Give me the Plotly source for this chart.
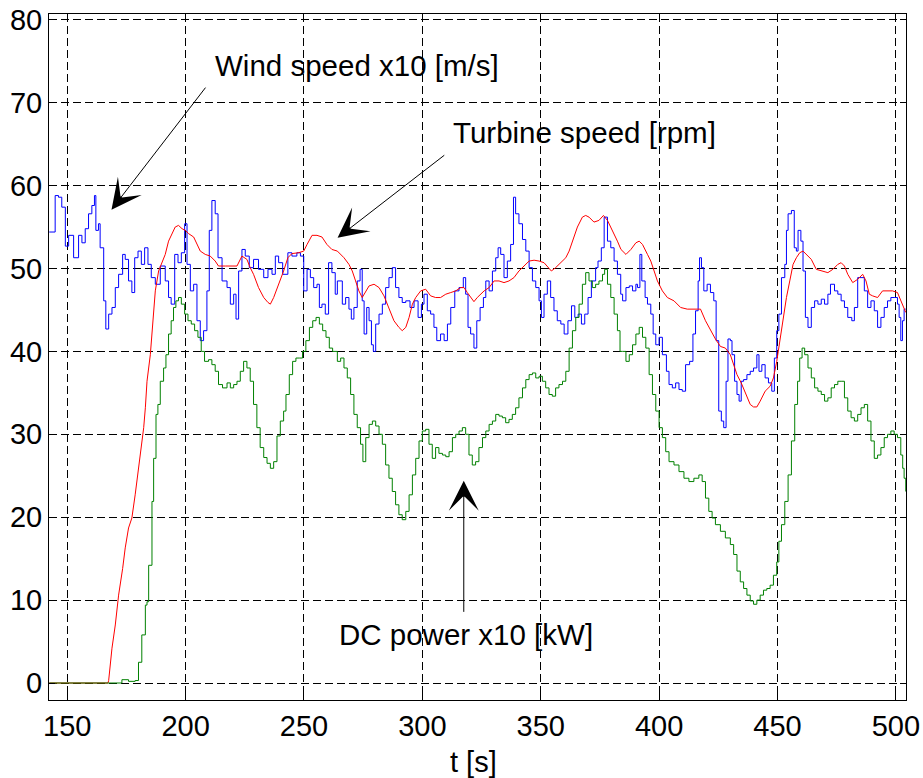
import plotly.graph_objects as go

# Wind speed x10 [m/s]
wind_t = [142.4, 144.9, 146.3, 147.7, 149.2, 150.6, 152.7, 154.8, 156.2, 157.6, 159.0, 160.4, 161.5, 162.1,
          163.2, 163.9, 165.4, 166.3, 167.5, 168.9, 170.3, 171.7, 173.4, 174.5, 175.9, 177.3, 178.5, 179.9,
          181.3, 182.7, 184.1, 185.5, 187.2, 189.3, 191.4, 192.8, 193.9, 195.4, 196.8, 198.2, 199.6, 200.6,
          202.0, 203.4, 204.8, 206.2, 207.6, 209.0, 210.0, 211.1, 212.5, 213.7, 215.4, 217.5, 218.9, 220.3,
          221.3, 222.4, 223.8, 225.2, 226.9, 228.7, 230.8, 233.0, 234.8, 236.5, 237.9, 239.3, 241.0, 243.2,
          244.9, 247.0, 248.5, 249.9, 251.3, 252.7, 254.1, 255.5, 256.5, 257.6, 259.0, 260.4, 261.8, 263.2,
          264.1, 266.2, 267.6, 269.0, 270.0, 271.1, 272.5, 273.7, 274.6, 275.4, 276.5, 277.5, 278.5, 279.3,
          280.3, 281.7, 283.1, 284.5, 285.9, 287.3, 288.7, 290.1, 291.5, 293.0, 294.8, 296.5, 298.2, 299.6,
          300.7, 302.1, 303.5, 304.9, 306.1, 307.7, 309.2, 310.6, 312.0, 313.7, 315.5, 317.3, 318.3, 319.3,
          320.4, 321.8, 323.0, 324.4, 325.8, 326.8, 328.2, 329.6, 331.0, 332.0, 333.1, 334.5, 335.9, 337.3,
          338.5, 339.4, 340.8, 342.3, 343.7, 345.1, 346.5, 347.9, 349.3, 350.3, 351.4, 352.8, 354.2, 355.6,
          357.0, 358.5, 359.9, 361.5, 363.0, 364.4, 365.8, 367.2, 368.6, 370.0, 371.4, 373.2, 374.2, 375.6,
          376.8, 378.2, 379.6, 381.0, 382.4, 383.8, 384.6, 386.0, 387.4, 388.8, 390.2, 390.9, 391.9, 392.7,
          394.1, 395.1, 396.5, 397.5, 398.6, 400.0, 401.4, 403.1, 404.2, 405.6, 407.0, 408.4, 409.8, 411.2,
          412.9, 414.3, 415.4, 416.5, 417.1, 417.9, 418.9, 420.3, 421.7, 423.1, 424.1, 425.2, 426.3, 427.3,
          428.3, 429.1, 430.1, 430.8, 431.9, 432.9, 433.8, 434.7, 435.7, 437.1, 438.5, 439.9, 441.3, 442.2,
          443.4, 444.8, 446.2, 447.6, 448.7, 449.7, 450.6, 451.7, 453.1, 453.8, 454.5, 455.9, 457.1, 458.0,
          458.7, 459.9, 460.8, 461.8, 462.9, 464.3, 465.7, 467.1, 468.5, 469.9, 471.3, 472.4, 474.1, 475.5,
          476.9, 478.3, 479.7, 481.4, 482.5, 483.9, 485.3, 486.7, 488.1, 489.5, 490.9, 492.3, 493.7, 495.1,
          496.5, 497.9, 499.3, 500.7, 501.4, 502.1, 502.8, 503.5, 504.2]
wind_v = [54.4, 58.8, 58.6, 57.4, 52.7, 54.0, 51.3, 54.0, 53.1, 54.8, 56.6, 57.6, 58.8, 54.6,
          55.4, 52.5, 46.1, 42.7, 44.5, 45.3, 47.7, 49.3, 51.7, 51.1, 48.5, 47.1, 51.3, 52.1,
          50.5, 52.5, 50.5, 48.9, 48.1, 50.3, 48.5, 46.5, 45.7, 51.7, 50.7, 51.9, 55.4, 50.5,
          47.3, 48.1, 43.7, 41.3, 42.5, 47.3, 54.6, 58.2, 56.6, 51.3, 48.5, 47.7, 45.7, 46.9,
          43.9, 49.7, 52.3, 51.5, 50.1, 51.1, 49.9, 48.9, 49.9, 49.3, 51.5, 50.7, 49.3, 51.9,
          51.5, 51.9, 51.5, 47.3, 49.9, 48.9, 47.7, 48.1, 45.3, 45.7, 44.5, 50.7, 49.5, 46.9,
          48.5, 45.7, 46.5, 45.1, 43.9, 45.3, 48.5, 49.9, 46.1, 42.1, 45.3, 43.7, 40.8, 40.0,
          43.3, 44.5, 45.7, 47.7, 48.9, 50.1, 47.7, 46.5, 45.9, 46.1, 45.3, 46.1, 44.1, 45.7,
          46.9, 44.9, 44.5, 42.9, 41.3, 42.1, 41.3, 43.3, 45.3, 47.3, 47.7, 48.9, 46.9, 42.9,
          42.1, 40.4, 43.7, 45.3, 46.5, 48.5, 47.3, 49.7, 51.3, 52.5, 51.7, 48.9, 50.9, 52.9,
          58.6, 56.6, 55.4, 53.5, 52.1, 50.1, 48.5, 47.7, 46.1, 44.1, 46.9, 48.5, 46.5, 44.9,
          43.7, 43.3, 42.1, 43.7, 45.5, 44.1, 44.5, 43.3, 44.5, 46.5, 48.5, 50.1, 50.9, 52.5,
          56.2, 53.3, 52.5, 50.9, 49.3, 46.9, 46.1, 47.7, 47.9, 47.3, 48.1, 47.7, 51.7, 48.5,
          46.5, 45.7, 44.5, 42.1, 40.8, 41.7, 39.6, 37.6, 36.0, 35.6, 36.2, 35.4, 35.2, 38.4,
          38.8, 42.1, 44.9, 48.5, 51.3, 50.1, 47.3, 48.1, 47.1, 46.1, 41.3, 32.8, 31.6, 30.8,
          36.4, 41.5, 41.3, 39.6, 36.4, 34.8, 34.0, 36.4, 36.6, 37.2, 37.6, 38.0, 39.6, 37.6,
          38.4, 36.8, 36.2, 35.2, 39.2, 42.5, 44.5, 48.9, 50.5, 54.6, 56.6, 57.0, 52.5, 52.1,
          54.6, 53.3, 49.7, 44.1, 42.9, 45.3, 46.1, 45.7, 46.3, 45.7, 46.9, 48.1, 47.3, 46.9,
          46.1, 45.3, 44.1, 43.7, 45.3, 48.9, 48.9, 47.3, 45.3, 46.1, 44.9, 42.9, 44.1, 45.3,
          46.1, 46.5, 46.5, 45.7, 44.1, 41.3, 43.7, 45.1, 45.1]

# Turbine speed [rpm]
turb_t = [142.4, 167.2, 167.5, 168.9, 170.3, 171.7, 173.4, 174.5, 175.9, 177.3, 178.7, 180.1, 181.5, 182.3,
          183.0, 183.7, 185.1, 186.1, 187.2, 188.6, 190.0, 191.4, 192.8, 194.2, 195.6, 197.0, 198.5, 199.9,
          201.3, 203.4, 204.8, 206.2, 208.3, 210.4, 212.5, 213.9, 216.8, 219.6, 221.7, 223.8, 225.9, 227.3,
          228.7, 230.8, 233.0, 234.8, 235.8, 237.2, 238.6, 240.0, 241.4, 243.2, 244.9, 247.7, 249.9, 251.3,
          253.4, 255.5, 257.6, 259.7, 261.8, 264.1, 266.9, 269.0, 270.4, 271.8, 273.2, 274.6, 276.1, 277.5,
          279.6, 281.7, 283.8, 285.9, 288.0, 290.1, 291.5, 293.0, 294.4, 295.8, 297.2, 299.3, 301.4, 303.5,
          305.6, 307.7, 309.9, 312.0, 314.1, 316.2, 317.6, 319.0, 320.4, 321.8, 323.2, 324.6, 326.1, 328.2,
          330.3, 332.4, 334.5, 336.6, 338.7, 340.8, 343.0, 345.1, 347.2, 349.3, 351.4, 352.8, 354.5, 356.3,
          358.5, 360.6, 362.0, 363.4, 365.5, 367.6, 369.0, 370.4, 372.5, 374.6, 376.5, 378.2, 379.6, 381.0,
          382.4, 383.9, 386.0, 388.1, 390.2, 391.6, 393.0, 395.1, 396.5, 397.9, 399.3, 401.4, 403.5, 406.3,
          409.1, 411.9, 415.4, 417.5, 419.6, 421.7, 423.8, 425.9, 428.0, 430.1, 431.5, 432.9, 434.7, 436.4,
          438.5, 439.9, 441.3, 442.7, 444.8, 446.9, 448.3, 449.7, 451.0, 452.4, 453.8, 455.2, 456.6, 458.0,
          459.4, 460.8, 462.2, 464.3, 466.4, 468.5, 471.3, 473.4, 475.5, 476.9, 478.3, 479.7, 481.8, 483.9,
          486.0, 487.4, 488.8, 490.2, 492.3, 494.4, 496.5, 498.6, 500.7, 502.1, 503.5, 504.2]
turb_v = [0.0, 0.0, 0.3, 4.2, 7.0, 10.6, 13.8, 16.3, 18.7, 19.9, 22.7, 25.9, 29.6, 30.8,
          33.2, 36.4, 39.6, 43.3, 47.3, 49.7, 50.7, 51.7, 53.3, 54.2, 55.0, 55.2, 54.8, 54.6,
          54.2, 53.8, 52.9, 52.1, 51.7, 51.5, 50.9, 50.3, 50.3, 50.3, 50.3, 51.5, 51.1, 50.1,
          49.3, 47.7, 46.5, 45.9, 45.7, 46.5, 47.5, 48.5, 49.7, 51.3, 51.8, 51.9, 52.1, 52.9,
          54.0, 54.0, 53.8, 52.9, 52.3, 52.1, 51.3, 50.5, 49.7, 48.5, 47.3, 46.5, 47.3, 47.9,
          48.1, 47.7, 46.7, 45.3, 43.7, 42.9, 42.5, 42.9, 44.1, 45.7, 46.5, 47.3, 47.5, 46.7,
          46.5, 46.5, 46.9, 47.1, 47.3, 47.7, 47.7, 47.1, 46.5, 46.0, 46.5, 46.9, 47.3, 47.7,
          48.5, 48.5, 48.3, 48.5, 48.9, 49.7, 50.3, 50.9, 51.0, 50.9, 50.7, 50.3, 49.7, 50.1,
          50.7, 51.3, 52.1, 53.3, 55.0, 56.2, 56.4, 56.2, 55.6, 55.8, 56.4, 55.8, 55.0, 54.2,
          53.3, 52.3, 51.7, 52.3, 53.1, 53.3, 52.9, 51.7, 50.9, 49.7, 48.5, 47.3, 46.5, 46.1,
          45.3, 45.1, 45.1, 45.1, 43.7, 42.5, 41.5, 40.6, 40.4, 39.6, 38.4, 37.2, 36.2, 35.0,
          33.6, 33.3, 33.3, 34.0, 35.2, 35.8, 36.8, 38.8, 41.3, 43.7, 46.5, 48.5, 50.5, 51.3,
          51.9, 52.1, 51.7, 51.1, 49.9, 49.7, 49.5, 49.9, 50.5, 50.7, 50.3, 49.3, 48.3, 48.7,
          49.3, 48.5, 46.9, 46.7, 46.5, 47.3, 47.3, 47.3, 47.1, 46.1, 45.3, 44.7]

# DC power x10 [kW]
power_t = [142.4, 168.9, 173.1, 175.9, 178.7, 180.1, 181.5, 183.0, 183.7, 184.4, 185.8, 186.5, 187.5, 188.3,
           189.3, 190.7, 191.7, 192.8, 193.9, 194.9, 195.9, 197.0, 198.2, 199.6, 201.0, 202.4, 203.8, 205.2,
           206.6, 208.0, 209.7, 211.1, 212.5, 213.9, 215.6, 217.5, 218.9, 220.3, 221.7, 223.1, 224.5, 225.9,
           227.3, 228.7, 230.1, 231.5, 233.0, 234.4, 235.8, 237.2, 238.6, 240.0, 241.4, 242.4, 243.8, 245.2,
           246.6, 248.0, 249.4, 250.8, 252.3, 253.7, 255.1, 256.5, 257.9, 259.3, 260.7, 262.1, 264.1, 265.5,
           266.9, 268.3, 269.7, 271.1, 272.5, 273.9, 274.9, 276.1, 277.5, 278.9, 280.3, 281.7, 283.1, 284.5,
           285.9, 287.3, 288.7, 290.1, 291.5, 293.0, 294.4, 295.8, 297.2, 298.6, 300.0, 301.4, 302.8, 304.2,
           305.6, 307.0, 308.5, 309.9, 311.3, 312.7, 314.1, 315.5, 316.9, 318.3, 319.7, 321.1, 322.5, 323.9,
           325.4, 326.8, 328.2, 329.6, 331.0, 332.4, 333.8, 335.2, 336.6, 338.0, 339.4, 340.8, 342.3, 343.7,
           345.1, 346.5, 347.9, 349.3, 350.7, 352.1, 353.5, 354.9, 356.3, 357.7, 359.2, 360.6, 362.0, 363.4,
           364.8, 366.2, 367.6, 369.0, 370.4, 371.8, 373.2, 374.6, 376.1, 377.0, 378.2, 379.6, 381.0, 382.4,
           383.5, 384.6, 386.0, 387.4, 388.8, 390.2, 391.6, 393.0, 394.4, 395.8, 397.2, 398.6, 400.0, 401.4,
           402.8, 404.2, 406.3, 408.4, 410.5, 412.6, 414.7, 416.8, 418.2, 419.6, 421.0, 422.4, 423.8, 425.9,
           428.0, 430.1, 431.5, 432.9, 434.3, 435.7, 437.1, 438.5, 439.9, 441.3, 442.7, 444.1, 445.5, 446.9,
           448.3, 449.7, 450.6, 451.7, 453.1, 454.5, 455.9, 457.3, 458.5, 459.4, 460.4, 461.5, 462.9, 464.3,
           465.7, 467.1, 468.5, 469.9, 471.3, 472.7, 474.1, 475.5, 476.9, 478.3, 479.7, 481.1, 482.5, 483.9,
           485.3, 486.7, 488.1, 489.5, 490.9, 492.3, 493.7, 495.1, 496.5, 497.9, 499.3, 500.7, 502.1, 502.9,
           503.5, 504.2]
power_v = [0.0, 0.0, 0.4, 0.2, 0.3, 2.5, 5.8, 9.4, 9.8, 14.2, 21.9, 27.1, 32.4, 33.6,
           36.4, 38.0, 39.6, 42.1, 43.7, 45.3, 46.1, 46.5, 45.7, 44.5, 43.7, 43.3, 42.5, 41.7,
           40.0, 38.8, 39.0, 38.4, 37.6, 36.0, 35.6, 36.2, 35.6, 36.0, 36.4, 37.6, 38.8, 38.0,
           36.4, 33.6, 30.8, 28.4, 27.2, 26.5, 25.9, 26.7, 29.8, 31.6, 32.8, 34.8, 37.2, 38.8,
           39.2, 39.2, 40.0, 41.3, 42.9, 43.7, 44.1, 43.3, 42.5, 41.7, 40.4, 40.0, 38.8, 39.2,
           38.0, 36.8, 34.8, 32.4, 30.8, 28.8, 26.7, 29.6, 31.2, 31.6, 31.0, 30.0, 28.8, 26.3,
           24.7, 23.1, 21.5, 20.3, 19.7, 20.7, 22.7, 25.1, 27.1, 29.2, 30.4, 30.6, 28.8, 27.1,
           28.4, 27.7, 27.5, 27.3, 27.9, 29.6, 30.0, 30.4, 30.8, 30.0, 27.5, 26.3, 26.7, 28.4,
           29.6, 30.4, 31.2, 31.6, 32.4, 32.2, 32.0, 31.4, 31.8, 32.4, 33.2, 34.4, 35.6, 36.6,
           37.2, 37.4, 36.8, 37.0, 36.4, 35.6, 34.8, 34.6, 35.6, 36.0, 36.4, 37.6, 40.4, 42.5,
           44.1, 45.7, 48.1, 49.5, 48.5, 47.7, 48.1, 48.5, 49.3, 49.9, 48.1, 46.5, 44.5, 42.5,
           40.0, 40.0, 38.8, 39.6, 40.8, 42.1, 42.9, 41.7, 40.4, 37.2, 34.8, 32.8, 30.8, 29.6,
           27.9, 26.7, 26.3, 25.5, 24.7, 24.3, 24.7, 25.1, 24.3, 22.3, 20.7, 19.9, 19.1, 18.3,
           17.5, 16.7, 15.5, 13.5, 12.2, 11.4, 10.6, 9.9, 9.5, 10.0, 10.6, 11.2, 11.4, 11.8,
           13.0, 14.6, 17.1, 19.1, 21.9, 25.1, 29.2, 33.6, 36.4, 39.2, 40.4, 39.6, 38.0, 36.8,
           35.6, 35.2, 34.8, 34.0, 34.4, 35.6, 36.0, 36.4, 36.4, 34.4, 32.8, 32.0, 31.6, 32.4,
           33.2, 33.6, 31.6, 29.2, 27.1, 27.5, 28.4, 29.6, 30.0, 30.4, 30.0, 29.6, 27.5, 25.9,
           24.7, 23.1]

x_ticks = [150, 200, 250, 300, 350, 400, 450, 500]
y_ticks = [0, 10, 20, 30, 40, 50, 60, 70, 80]

FONT = "Liberation Sans, Arial, sans-serif"

fig = go.Figure()
fig.add_trace(go.Scatter(x=wind_t, y=wind_v, mode="lines", line=dict(color="#0000FF", width=1, shape="hv"),
                         name="Wind speed x10 [m/s]"))
fig.add_trace(go.Scatter(x=turb_t, y=turb_v, mode="lines", line=dict(color="#FF0000", width=1),
                         name="Turbine speed [rpm]"))
fig.add_trace(go.Scatter(x=power_t, y=power_v, mode="lines", line=dict(color="#008000", width=1, shape="hv"),
                         name="DC power x10 [kW]"))

axis_common = dict(
    showgrid=True, gridcolor="black", gridwidth=1, griddash="8px,4px",
    showline=True, linecolor="black", linewidth=1, mirror="ticks",
    ticks="inside", ticklen=6, tickcolor="black", zeroline=False, automargin=False,
    tickfont=dict(family=FONT, size=29, color="black"),
)

fig.update_xaxes(range=[142.3, 504.3], tickvals=x_ticks, **axis_common)
fig.update_yaxes(range=[-2.05, 80.7], tickvals=y_ticks, **axis_common)

arrow_style = dict(xref="x", yref="y", axref="x", ayref="y", text="", showarrow=True,
                   arrowhead=3, arrowsize=5, arrowwidth=1, arrowcolor="black")
label_style = dict(xref="x", yref="y", showarrow=False, xanchor="left", yanchor="middle",
                   font=dict(family=FONT, size=29.5, color="black"))

fig.update_layout(
    width=923, height=778,
    margin=dict(l=49, r=17, t=14, b=78),
    plot_bgcolor="white", paper_bgcolor="white",
    showlegend=False,
    annotations=[
        dict(x=168.7, y=57.1, ax=208.9, ay=72.0, **arrow_style),
        dict(x=264.2, y=53.7, ax=309.9, ay=63.8, **arrow_style),
        dict(x=317.5, y=24.4, ax=317.5, ay=8.4, **arrow_style),
        dict(x=211.5, y=74.5, text="Wind speed x10 [m/s]", **label_style),
        dict(x=312.2, y=66.4, text="Turbine speed [rpm]", **label_style),
        dict(x=264.1, y=5.8, text="DC power x10 [kW]", **label_style),
        # x-axis title
        dict(xref="paper", yref="paper", x=0.495, y=-0.0904, text="t [s]", showarrow=False,
             xanchor="center", yanchor="middle", font=dict(family=FONT, size=29, color="black")),
    ],
)

fig.write_html("out.html")
